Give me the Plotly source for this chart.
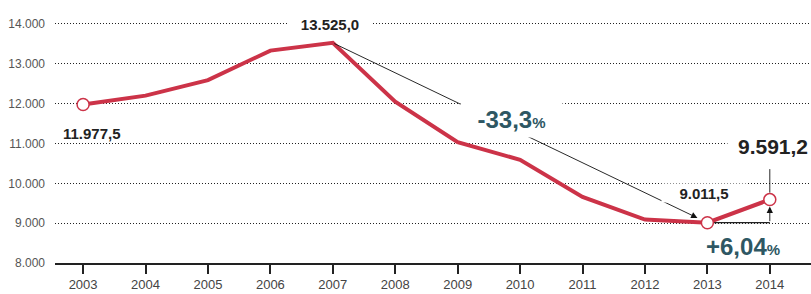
import plotly.graph_objects as go

years = [2003, 2004, 2005, 2006, 2007, 2008, 2009, 2010, 2011, 2012, 2013, 2014]
values = [11977.5, 12200, 12590, 13330, 13525.0, 12050, 11030, 10590, 9660, 9090, 9011.5, 9591.2]
y_ticks = [8000, 9000, 10000, 11000, 12000, 13000, 14000]
y_tick_labels = ["8.000", "9.000", "10.000", "11.000", "12.000", "13.000", "14.000"]
x_tick_labels = [str(y) for y in years]
marked_years = [2003, 2013, 2014]

RED = "#cc3348"
TEAL = "#2e5763"
DARK = "#222222"
FONT = "Liberation Sans, Arial, sans-serif"

val = dict(zip(years, values))

fig = go.Figure()
fig.add_trace(go.Scatter(
    x=years, y=values, mode="lines",
    line=dict(color=RED, width=4), hoverinfo="skip", showlegend=False,
))
fig.add_trace(go.Scatter(
    x=marked_years, y=[val[y] for y in marked_years], mode="markers",
    marker=dict(size=12, color="white", line=dict(color=RED, width=1.5)),
    hoverinfo="skip", showlegend=False,
))

# bracket 2013 -> 2014 (horizontal part)
fig.add_shape(type="line", x0=2013, x1=2014, y0=val[2013], y1=val[2013],
              xref="x", yref="y", line=dict(color=DARK, width=1.2), layer="below")

ann = []
# long arrow from peak to 2013
ann.append(dict(x=2013, y=val[2013], ax=2007, ay=val[2007], xref="x", yref="y",
                axref="x", ayref="y", text="", showarrow=True, arrowhead=2,
                arrowsize=1.4, arrowwidth=0.9, arrowcolor="#111", standoff=11))
# vertical arrow 2013 level -> 2014 point
ann.append(dict(x=2014, y=val[2014], ax=2014, ay=val[2013], xref="x", yref="y",
                axref="x", ayref="y", text="", showarrow=True, arrowhead=2,
                arrowsize=1.4, arrowwidth=0.9, arrowcolor="#111", standoff=7))
# vertical line above 2014 point
ann.append(dict(x=2014, y=val[2014], ax=0, ay=-32, xref="x", yref="y",
                text="", showarrow=True, arrowhead=0, arrowwidth=0.9,
                arrowcolor="#111", standoff=7))

# labels
ann.append(dict(x=2007, y=val[2007], xref="x", yref="y", xshift=-3, yshift=19,
                text="<b>13.525,0</b>",
                showarrow=False, font=dict(family=FONT, size=15, color=DARK),
                bgcolor="white", width=82, height=20, borderpad=0))
ann.append(dict(x=2003, y=val[2003], xref="x", yref="y", xshift=9, yshift=-29,
                text="<b>11.977,5</b>", showarrow=False,
                font=dict(family=FONT, size=15, color=DARK)))
ann.append(dict(x=2009, y=val[2009], xref="x", yref="y", xshift=54, yshift=23,
                text="<b>-33,3</b><b><span style='font-size:15px'>%</span></b>",
                showarrow=False, font=dict(family=FONT, size=24, color=TEAL),
                bgcolor="white", width=101, height=36, borderpad=0))
ann.append(dict(x=2013, y=val[2013], xref="x", yref="y", xshift=-3, yshift=30,
                text="<b>9.011,5</b>", showarrow=False,
                font=dict(family=FONT, size=15, color=DARK),
                bgcolor="white", width=84, height=18, borderpad=0))
ann.append(dict(x=2014, y=val[2014], xref="x", yref="y", xshift=3, yshift=54,
                text="<b>9.591,2</b>", showarrow=False,
                font=dict(family=FONT, size=21, color=DARK),
                bgcolor="white", width=90, height=40, borderpad=0))
ann.append(dict(x=2013, y=val[2013], xref="x", yref="y", xshift=36, yshift=-24,
                text="<b>+6,04</b><b><span style='font-size:15px'>%</span></b>",
                showarrow=False, font=dict(family=FONT, size=24, color=TEAL)))

fig.update_layout(
    width=811, height=294,
    margin=dict(l=55, r=0, t=4, b=31),
    paper_bgcolor="white", plot_bgcolor="white",
    annotations=ann,
    xaxis=dict(range=[2002.55, 2014.66], tickvals=years, ticktext=x_tick_labels,
               showgrid=False, zeroline=False, showline=True, linecolor="#222",
               linewidth=1.5, ticks="outside", ticklen=9, tickcolor="#222",
               tickwidth=1.5,
               tickfont=dict(family=FONT, size=13, color="#444")),
    yaxis=dict(range=[8000, 14500], tickvals=y_ticks, ticktext=y_tick_labels,
               showgrid=True, gridcolor="#222", griddash="1px,2px", gridwidth=1,
               zeroline=False, showline=False, ticks="",
               ticklabelstandoff=9,
               tickfont=dict(family=FONT, size=12, color="#555")),
)

fig.write_html("out.html", config={"displayModeBar": False},
               post_script="document.body.style.margin='0';")
